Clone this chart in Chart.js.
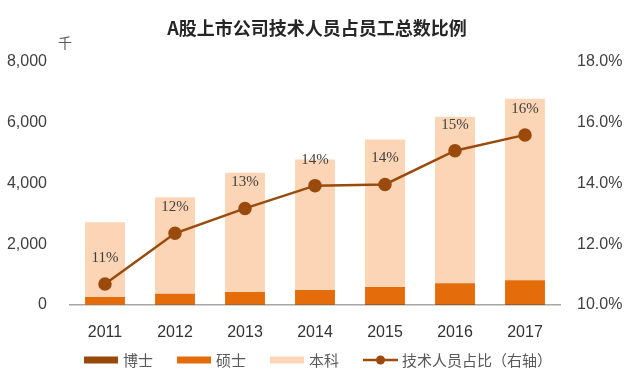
<!DOCTYPE html>
<html>
<head>
<meta charset="utf-8">
<script src="https://cdn.jsdelivr.net/npm/chart.js@4"></script>
<style>
  html, body { margin: 0; padding: 0; background: #fff; }
  #wrap { width: 641px; height: 391px; position: relative; }
</style>
</head>
<body>
<div id="wrap"><canvas id="chart" width="641" height="391"></canvas></div>
<script>
const years = ['2011', '2012', '2013', '2014', '2015', '2016', '2017'];
// 千人
const phd = [12, 15, 17, 20, 22, 25, 28];
const master = [250, 355, 410, 470, 570, 695, 790];
const bachelor = [2460, 3180, 3930, 4300, 4860, 5480, 5970];
// 技术人员占比 %
const ratio = [10.69, 12.36, 13.18, 13.93, 13.97, 15.08, 15.6];

const TITLE = 'A股上市公司技术人员占员工总数比例';
const UNIT = '千';
const CJK = '"Noto Sans CJK SC", "Liberation Sans", sans-serif';
const LATIN = '"Liberation Sans", Arial, sans-serif';

const colors = {
    phd: '#984807',
    master: '#E46C0A',
    bachelor: '#FBD5B5',
    line: '#9A4A0C',
};

const extras = {
    id: 'extras',
    afterDatasetsDraw(chart) {
        const ctx = chart.ctx;
        // point labels above the line
        const meta = chart.getDatasetMeta(3);
        ctx.save();
        ctx.font = '15px "Liberation Serif", "DejaVu Serif", serif';
        ctx.fillStyle = '#404040';
        ctx.textAlign = 'center';
        ctx.textBaseline = 'middle';
        meta.data.forEach((pt, i) => {
            ctx.fillText(Math.round(ratio[i]) + '%', pt.x, pt.y - 26);
        });
        ctx.restore();
    },
    afterDraw(chart) {
        const ctx = chart.ctx;
        ctx.save();
        // title
        ctx.font = 'bold 18px ' + CJK;
        ctx.fillStyle = '#262626';
        ctx.textAlign = 'center';
        ctx.textBaseline = 'middle';
        ctx.fillText(TITLE, 317, 28);
        // unit
        ctx.font = '14px ' + CJK;
        ctx.fillStyle = '#595959';
        ctx.fillText(UNIT, 65, 43);

        // legend
        ctx.font = '15px ' + CJK;
        ctx.textAlign = 'left';
        let x = 84;
        const y = 360;
        chart.data.datasets.forEach((ds) => {
            if (ds.type === 'line') {
                ctx.strokeStyle = ds.borderColor;
                ctx.lineWidth = 2.5;
                ctx.beginPath();
                ctx.moveTo(x, y);
                ctx.lineTo(x + 35, y);
                ctx.stroke();
                ctx.fillStyle = ds.borderColor;
                ctx.beginPath();
                ctx.arc(x + 17.5, y, 4.5, 0, Math.PI * 2);
                ctx.fill();
            } else {
                ctx.fillStyle = ds.backgroundColor;
                ctx.fillRect(x, y - 3.5, 34, 7);
            }
            x += 39;
            ctx.fillStyle = '#595959';
            ctx.fillText(ds.label, x, y);
            x += ctx.measureText(ds.label).width + 24;
        });
        ctx.restore();
    },
};

new Chart(document.getElementById('chart').getContext('2d'), {
    data: {
        labels: years,
        datasets: [
            { type: 'bar', label: '博士', data: phd, backgroundColor: colors.phd, yAxisID: 'y', order: 2 },
            { type: 'bar', label: '硕士', data: master, backgroundColor: colors.master, yAxisID: 'y', order: 2 },
            { type: 'bar', label: '本科', data: bachelor, backgroundColor: colors.bachelor, yAxisID: 'y', order: 2 },
            {
                type: 'line',
                label: '技术人员占比（右轴）',
                data: ratio,
                yAxisID: 'y1',
                borderColor: colors.line,
                backgroundColor: colors.line,
                borderWidth: 2.5,
                pointRadius: 5.5,
                pointHoverRadius: 5.5,
                tension: 0,
                order: 1,
            },
        ],
    },
    options: {
        responsive: false,
        animation: false,
        layout: { padding: { top: 62, bottom: 0, left: 0, right: 0 } },
        datasets: { bar: { categoryPercentage: 1, barPercentage: 0.57 } },
        plugins: { legend: { display: false }, title: { display: false }, tooltip: { enabled: false } },
        scales: {
            x: {
                stacked: true,
                grid: { display: false },
                border: { display: true, color: '#A6A6A6', width: 1.5 },
                ticks: { color: '#333333', font: { family: LATIN, size: 16 }, padding: 10 },
                afterFit(scale) { scale.height = 86; },
            },
            y: {
                position: 'left',
                stacked: true,
                min: 0,
                max: 8000,
                grid: { display: false, drawTicks: false },
                border: { display: false },
                ticks: {
                    stepSize: 2000,
                    padding: 23,
                    color: '#404040',
                    font: { family: LATIN, size: 16 },
                    callback: (v) => v.toLocaleString('en-US'),
                },
                afterFit(scale) { scale.width = 70; },
            },
            y1: {
                position: 'right',
                min: 10,
                max: 18,
                grid: { display: false, drawTicks: false },
                border: { display: false },
                ticks: {
                    stepSize: 2,
                    padding: 17,
                    color: '#404040',
                    font: { family: LATIN, size: 16 },
                    callback: (v) => v.toFixed(1) + '%',
                },
                afterFit(scale) { scale.width = 81; },
            },
        },
    },
    plugins: [extras],
});
</script>
</body>
</html>
